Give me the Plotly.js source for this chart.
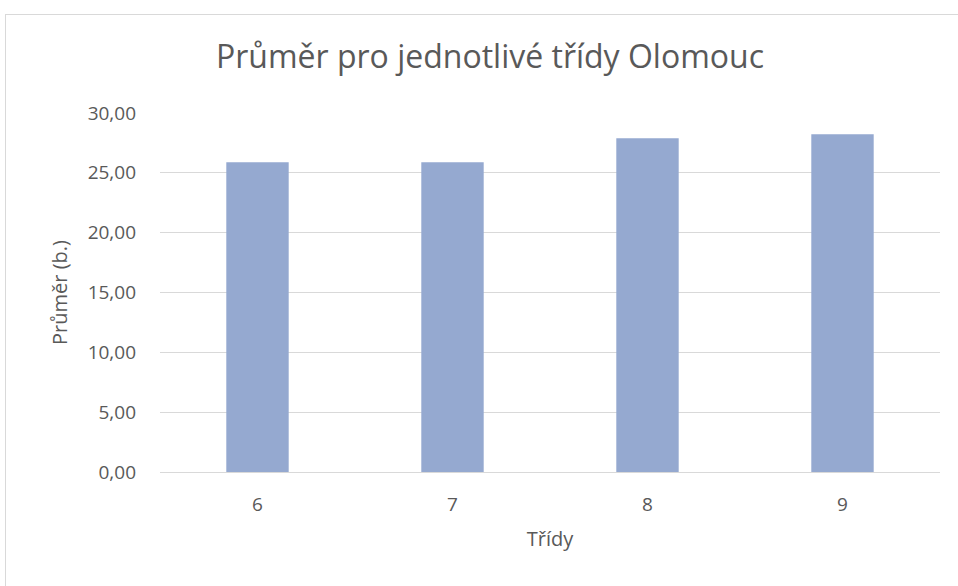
<!DOCTYPE html>
<html>
<head>
<meta charset="utf-8">
<script src="https://cdn.plot.ly/plotly-3.0.1.min.js"></script>
<style>
  html, body { margin: 0; padding: 0; background: #fff; }
  #frame { position: absolute; left: 5px; top: 14px; width: 960px; height: 600px; border: 1px solid #d9d9d9; box-sizing: border-box; }
  #chart { position: absolute; left: 0; top: 0; width: 958px; height: 586px; }
</style>
</head>
<body>
<div id="frame"></div>
<div id="chart"></div>
<script>
const categories = ["6", "7", "8", "9"];
const averages = [25.88, 25.88, 27.88, 28.23];
const chartTitle = "Průměr pro jednotlivé třídy Olomouc";
const xTitle = "Třídy";
const yTitle = "Průměr (b.)";

const FONT = "'Open Sans', sans-serif";

const trace = {
  type: "bar",
  x: categories,
  y: averages,
  marker: { color: "#95a9d0" },
  hoverinfo: "x+y"
};

const layout = {
  width: 958,
  height: 586,
  paper_bgcolor: "rgba(0,0,0,0)",
  plot_bgcolor: "rgba(0,0,0,0)",
  separators: ",.",
  margin: { l: 160, r: 18, t: 113, b: 114 },
  bargap: 0.68,
  font: { family: FONT, color: "#595959", size: 16 },
  title: {
    text: chartTitle,
    font: { family: FONT, size: 32, color: "#595959" },
    x: 490 / 958, xanchor: "center", xref: "container",
    y: 60, yref: "container", yanchor: "middle"
  },
  xaxis: {
    type: "category",
    showgrid: false,
    showline: true,
    linecolor: "#d9d9d9",
    linewidth: 1,
    ticks: "",
    ticklabelstandoff: 15,
    tickfont: { family: FONT, size: 19, color: "#595959" },
    title: { text: xTitle, font: { family: FONT, size: 20, color: "#595959" }, standoff: 16 }
  },
  yaxis: {
    range: [0, 30],
    dtick: 5,
    tickformat: ".2f",
    showgrid: true,
    gridcolor: "#d9d9d9",
    gridwidth: 1,
    zeroline: false,
    showline: false,
    ticks: "",
    ticklabelstandoff: 23,
    tickfont: { family: FONT, size: 19, color: "#595959" },
    title: { text: yTitle, font: { family: FONT, size: 20, color: "#595959" }, standoff: 14 }
  },
  showlegend: false
};

Plotly.newPlot("chart", [trace], layout, { displayModeBar: false, staticPlot: true });
</script>
</body>
</html>
